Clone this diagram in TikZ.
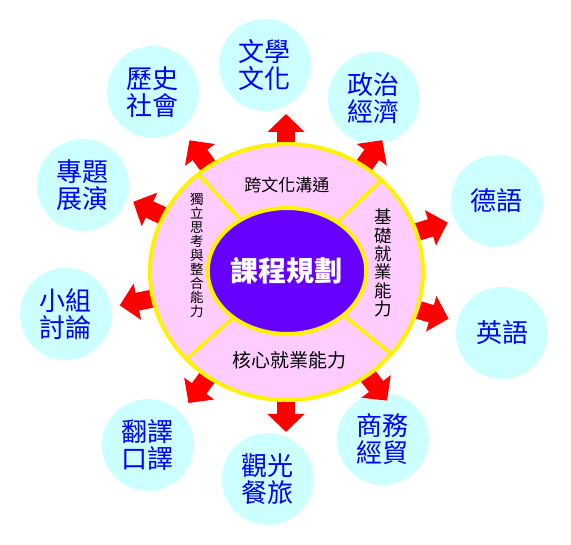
\documentclass[tikz,border=0pt]{standalone}
\usepackage{fontspec}
\setmainfont{Noto Sans CJK TC}
\usetikzlibrary{arrows.meta,shapes.geometric}

\definecolor{ringpink}{HTML}{FFCCFF}
\definecolor{corepurple}{HTML}{6600FF}
\definecolor{topiccyan}{HTML}{CCFFFF}
\definecolor{topicblue}{HTML}{0000FF}

\tikzset{
  topic/.style={circle,fill=topiccyan,minimum size=92pt,inner sep=0pt,text=topicblue,align=center,font=\fontsize{26}{27.5}\selectfont},
  bigarrow/.style={draw=red,line width=18pt,-{Triangle[length=18pt,width=36pt]}},
  divider/.style={draw=yellow,line width=3.5pt},
  ringtext/.style={text=black,inner sep=0pt,align=center}
}

\begin{document}
\begin{tikzpicture}[x=1pt,y=1pt]
  \useasboundingbox (-286,-273) rectangle (285,272);
  % topics round the ring
  \node[topic] (lit)  at (-21,207)  {文學\\文化};
  \node[topic] (hist) at (-133,180) {歷史\\社會};
  \node[topic] (pol)  at (88,174)   {政治\\經濟};
  \node[topic] (proj) at (-203,87)  {專題\\展演};
  \node[topic] (ger)  at (211,71)   {德語};
  \node[topic] (eng)  at (216,-61)  {英語};
  \node[topic] (grp)  at (-220,-42) {小組\\討論};
  \node[topic] (tran) at (-138,-173){翻譯\\口譯};
  \node[topic] (tour) at (-18,-207) {觀光\\餐旅};
  \node[topic] (biz)  at (97,-167)  {商務\\經貿};
  % arrows (tails hidden under the ring)
  \coordinate (lit-s)  at (90:125 and 117);   \coordinate (lit-e)  at (90:170 and 158);
  \coordinate (hist-s) at (124.6:125 and 117);\coordinate (hist-e) at (124.6:170 and 160);
  \coordinate (pol-s)  at (55.5:125 and 117); \coordinate (pol-e)  at (55.5:170 and 160);
  \coordinate (proj-s) at (154:125 and 117);  \coordinate (proj-e) at (154:170 and 160);
  \coordinate (ger-s)  at (18:125 and 117);   \coordinate (ger-e)  at (18:170 and 160);
  \coordinate (eng-s)  at (-17:125 and 117);  \coordinate (eng-e)  at (-17:170 and 160);
  \coordinate (grp-s)  at (192:125 and 117);  \coordinate (grp-e)  at (192:170 and 160);
  \coordinate (tran-s) at (235:125 and 117);  \coordinate (tran-e) at (235:170 and 160);
  \coordinate (tour-s) at (-90:125 and 117);  \coordinate (tour-e) at (-90:170 and 160);
  \coordinate (biz-s)  at (-53.5:125 and 117);\coordinate (biz-e)  at (-53.5:170 and 160);
  \draw[bigarrow] (lit-s) -- (lit-e);
  \draw[bigarrow] (hist-s) -- (hist-e);
  \draw[bigarrow] (pol-s) -- (pol-e);
  \draw[bigarrow] (proj-s) -- (proj-e);
  \draw[bigarrow] (ger-s) -- (ger-e);
  \draw[bigarrow] (eng-s) -- (eng-e);
  \draw[bigarrow] (grp-s) -- (grp-e);
  \draw[bigarrow] (tran-s) -- (tran-e);
  \draw[bigarrow] (tour-s) -- (tour-e);
  \draw[bigarrow] (biz-s) -- (biz-e);
  % ring and core
  \node[ellipse,draw=yellow,fill=ringpink,line width=4pt,minimum width=273pt,minimum height=256pt,inner sep=0pt,outer sep=0pt] (ring) at (0.5,0) {};
  \node[ellipse,draw=yellow,fill=corepurple,line width=4pt,minimum width=136pt,minimum height=126pt,inner sep=0pt,outer sep=0pt,text=white,font=\fontsize{28}{28}\selectfont\bfseries] (core) at (1,1) {課程規劃};
  \draw[divider] (core.132) -- (ring.132);
  \draw[divider] (core.44) -- (ring.44);
  \draw[divider] (core.-38) -- (ring.-38);
  \draw[divider] (core.221) -- (ring.221);
  % ring labels
  \node[ringtext,font=\fontsize{17}{17}\selectfont] (t-top) at (1,87) {跨文化溝通};
  \node[ringtext,font=\fontsize{19}{19}\selectfont] (t-bot) at (4,-88) {核心就業能力};
  \node[ringtext,font=\fontsize{17.5}{18.3}\selectfont] (t-right) at (97,9) {基\\礎\\就\\業\\能\\力};
  \node[ringtext,font=\fontsize{13.5}{14}\selectfont] (t-left) at (-89,17) {獨\\立\\思\\考\\與\\整\\合\\能\\力};
\end{tikzpicture}
\end{document}
